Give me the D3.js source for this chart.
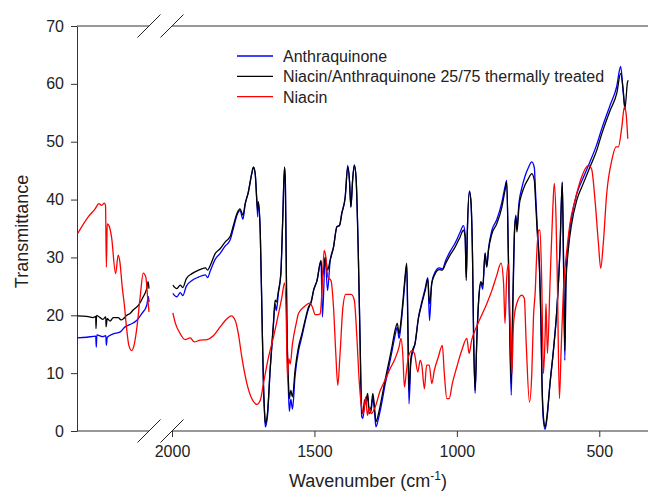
<!DOCTYPE html>
<html>
<head>
<meta charset="utf-8">
<script src="https://cdn.jsdelivr.net/npm/d3@7"></script>
<style>
  body { margin: 0; background: #fff; }
  svg { display: block; font-family: "Liberation Sans", Arial, sans-serif; }
</style>
</head>
<body>
<svg id="chart" width="648" height="492"></svg>
<script>
// broken wavenumber axis: left piece and right piece
var leftDomain = [2350, 2100];
var rightDomain = [2000, 329];
var xTicks = [2000, 1500, 1000, 500];
var yTicks = [0, 10, 20, 30, 40, 50, 60, 70];

var seriesNames = ['Anthraquinone', 'Niacin/Anthraquinone 25/75 thermally treated', 'Niacin'];
var seriesColors = ['#0000ff', '#000000', '#ff0000'];

// [wavenumber, transmittance]
var anthraLeft = [
  [2349,16.1],[2316,16.2],[2285,16.4],[2283,14.5],[2281,16.6],[2260,16.3],[2250,16.5],[2248,14.8],
  [2245,16.2],[2224,16.8],[2201,17.1],[2183,18.0],[2166,18.4],[2143,19.1],[2125,20.3],[2108,21.7],
  [2102,23.2],[2100,22.3]
];
var anthraRight = [
  [1997,23.8],[1983,23.2],[1971,23.9],[1962,23.4],[1950,25.0],[1930,26.0],[1907,26.6],[1883,27.0],
  [1875,26.5],[1866,27.6],[1848,29.7],[1831,30.7],[1813,32.0],[1796,33.0],[1784,35.1],[1772,37.3],
  [1761,38.1],[1751,36.6],[1743,39.2],[1732,41.3],[1720,44.5],[1714,45.6],[1708,44.5],[1702,39.6],
  [1699,37.0],[1697,39.6],[1690,34.1],[1684,19.7],[1679,8.2],[1674,2.0],[1672,0.7],[1665,2.5],
  [1655,10.8],[1644,18.3],[1638,22.0],[1634,20.8],[1626,24.0],[1618,27.0],[1611,37.0],[1605,45.6],
  [1602,42.8],[1597,19.7],[1591,6.5],[1588,3.4],[1583,5.5],[1577,3.8],[1568,9.5],[1556,13.8],
  [1544,16.3],[1533,18.8],[1521,21.1],[1511,22.5],[1503,24.3],[1491,26.0],[1477,29.3],[1472,19.7],
  [1462,30.0],[1454,24.3],[1445,29.3],[1433,31.8],[1421,35.3],[1412,35.5],[1404,37.6],[1392,40.4],
  [1383,45.9],[1377,43.3],[1372,38.7],[1366,43.3],[1360,46.0],[1354,43.9],[1346,30.7],[1340,16.2],
  [1334,2.5],[1330,2.2],[1324,4.5],[1318,5.0],[1313,6.0],[1308,3.0],[1301,3.5],[1295,5.8],
  [1289,3.3],[1284,0.7],[1275,2.2],[1263,5.0],[1252,8.0],[1240,10.8],[1228,13.7],[1217,16.5],
  [1209,17.9],[1203,16.0],[1196,18.4],[1188,22.5],[1182,26.0],[1176,28.7],[1172,17.0],[1168,4.7],
  [1162,11.5],[1156,13.5],[1147,15.0],[1135,19.6],[1123,22.3],[1111,24.7],[1102,26.5],[1096,19.1],
  [1088,25.7],[1076,27.5],[1062,28.2],[1051,28.0],[1039,29.5],[1024,31.0],[1006,32.5],[989,34.3],
  [977,35.5],[971,34.0],[967,26.5],[963,35.0],[956,41.5],[951,40.0],[945,30.1],[941,15.7],
  [936,6.5],[930,15.7],[922,23.5],[916,25.5],[909,24.5],[901,30.8],[895,28.5],[889,31.5],
  [877,34.7],[860,36.5],[842,39.5],[831,42.2],[825,43.3],[819,29.5],[814,16.0],[809,6.2],
  [805,17.5],[798,34.0],[793,37.3],[789,35.0],[782,39.4],[772,42.0],[761,44.0],[749,45.5],
  [737,46.5],[728,45.5],[724,41.5],[718,35.5],[710,28.5],[705,19.5],[701,8.0],[696,1.8],
  [690,0.3],[684,2.0],[673,8.2],[661,14.0],[649,21.0],[638,31.5],[630,43.0],[626,31.2],
  [621,12.2],[617,26.5],[609,32.5],[597,37.0],[579,41.0],[556,43.8],[533,46.5],[509,49.5],
  [491,52.3],[462,56.3],[439,59.5],[425,63.0],[416,58.5],[410,55.5]
];

var mixLeft = [
  [2349,19.9],[2316,19.8],[2294,19.6],[2285,19.8],[2284,17.7],[2282,20.0],[2270,19.6],[2260,19.3],
  [2250,19.7],[2249,18.0],[2245,19.4],[2235,19.0],[2224,19.6],[2207,19.6],[2197,19.2],[2189,19.4],
  [2177,20.0],[2166,20.3],[2155,20.9],[2137,21.7],[2120,23.2],[2108,24.6],[2103,25.8],[2100,24.6]
];
var mixRight = [
  [1997,25.2],[1983,24.6],[1971,25.2],[1962,24.8],[1950,26.3],[1930,27.2],[1907,27.8],[1883,28.2],
  [1875,27.8],[1866,28.6],[1848,30.7],[1831,31.5],[1813,32.7],[1796,33.6],[1784,35.6],[1772,37.6],
  [1761,38.4],[1751,37.3],[1743,39.3],[1732,41.3],[1720,44.5],[1714,45.6],[1708,44.5],[1702,39.6],
  [1699,38.1],[1697,39.6],[1690,34.1],[1684,19.7],[1679,8.2],[1674,2.4],[1672,1.3],[1665,3.0],
  [1655,11.1],[1644,18.6],[1638,22.6],[1634,22.3],[1626,24.3],[1618,27.2],[1611,37.0],[1605,45.6],
  [1602,42.8],[1597,19.7],[1591,8.2],[1588,5.6],[1583,7.0],[1577,5.9],[1568,10.5],[1556,14.5],
  [1544,16.8],[1533,19.1],[1521,21.4],[1511,22.3],[1503,24.3],[1491,26.0],[1477,29.5],[1472,26.6],
  [1462,30.1],[1454,27.8],[1445,29.5],[1433,31.8],[1421,35.3],[1412,35.5],[1404,37.6],[1392,40.4],
  [1383,45.6],[1377,43.3],[1372,38.7],[1366,43.3],[1360,45.9],[1354,43.9],[1346,30.7],[1340,16.2],
  [1334,3.6],[1330,3.0],[1324,5.3],[1318,5.6],[1313,6.5],[1308,3.6],[1301,4.1],[1295,6.5],
  [1289,4.1],[1284,1.6],[1275,3.0],[1263,5.9],[1252,8.8],[1240,11.6],[1228,14.5],[1217,17.4],
  [1209,18.6],[1203,16.8],[1196,19.1],[1188,23.2],[1182,26.6],[1176,29.0],[1172,19.1],[1168,7.0],
  [1162,12.2],[1156,13.9],[1147,15.1],[1135,19.4],[1123,22.0],[1111,24.3],[1102,26.3],[1096,22.0],
  [1088,25.5],[1076,27.2],[1062,27.9],[1051,27.8],[1039,29.0],[1024,30.4],[1006,31.8],[989,33.5],
  [977,34.7],[971,33.5],[967,26.0],[963,34.7],[956,41.3],[951,39.9],[945,30.1],[941,15.7],
  [936,7.0],[930,15.7],[922,23.7],[916,25.8],[909,25.2],[901,30.7],[895,28.3],[889,31.2],
  [877,34.1],[860,35.8],[842,38.7],[831,41.6],[825,43.0],[819,30.1],[814,17.4],[809,8.2],
  [805,18.6],[798,34.1],[793,37.0],[789,34.4],[782,38.7],[772,41.0],[761,42.5],[749,43.6],
  [737,44.5],[728,43.3],[724,40.0],[718,34.5],[710,28.0],[705,19.7],[701,8.2],[696,2.4],
  [690,0.7],[684,2.4],[673,8.2],[661,13.9],[649,20.9],[638,31.2],[630,43.0],[626,31.2],
  [621,13.9],[617,25.5],[609,31.2],[597,35.8],[579,39.9],[556,42.8],[533,45.6],[509,48.5],
  [491,51.4],[462,55.4],[439,58.3],[425,61.8],[416,58.9],[410,55.7],[401,60.3],[398,60.6]
];

var niacinLeft = [
  [2348,34.1],[2311,37.0],[2287,38.4],[2274,39.3],[2264,39.0],[2255,39.4],[2251,39.0],[2248,28.3],
  [2245,35.8],[2239,35.5],[2230,33.5],[2216,27.2],[2207,30.4],[2201,29.2],[2193,24.9],[2186,22.0],
  [2177,17.4],[2170,14.8],[2160,13.9],[2152,14.8],[2143,17.5],[2131,23.0],[2120,27.3],[2111,26.6],
  [2105,23.2],[2100,20.6]
];
var niacinRight = [
  [1997,20.4],[1988,18.6],[1971,16.8],[1954,15.8],[1936,16.1],[1922,15.4],[1901,15.7],[1877,15.8],
  [1854,16.5],[1831,18.0],[1807,19.4],[1792,19.9],[1778,19.1],[1767,16.8],[1755,12.8],[1737,8.2],
  [1720,5.6],[1702,4.6],[1690,5.3],[1679,8.2],[1661,12.8],[1644,16.2],[1626,20.3],[1614,23.2],
  [1605,25.6],[1599,19.7],[1595,9.3],[1590,12.5],[1585,11.6],[1577,15.1],[1564,18.6],[1556,20.3],
  [1538,21.4],[1515,22.1],[1507,21.4],[1497,20.1],[1480,20.2],[1474,23.7],[1466,31.2],[1460,30.1],
  [1453,26.6],[1442,26.0],[1433,21.4],[1425,13.4],[1418,7.9],[1410,13.4],[1400,21.4],[1390,23.6],
  [1371,23.6],[1360,22.6],[1351,16.2],[1343,8.8],[1336,4.7],[1328,3.0],[1320,5.9],[1314,2.7],
  [1308,4.1],[1301,3.0],[1287,4.1],[1269,7.0],[1252,8.8],[1234,10.8],[1217,12.5],[1203,14.5],
  [1196,16.0],[1190,13.4],[1184,7.6],[1178,9.9],[1170,12.8],[1158,13.9],[1149,13.4],[1137,10.2],
  [1129,12.2],[1123,11.4],[1114,7.3],[1106,11.4],[1097,11.4],[1088,8.2],[1079,10.5],[1065,12.8],
  [1051,14.8],[1044,9.9],[1035,5.6],[1027,5.6],[1016,8.2],[1000,11.1],[983,13.9],[965,16.0],
  [957,13.4],[948,15.7],[931,18.0],[913,20.0],[895,22.0],[877,24.3],[860,26.9],[845,29.0],
  [836,25.5],[831,18.6],[825,26.6],[819,28.9],[813,18.6],[807,9.9],[801,18.6],[790,22.0],
  [772,23.5],[763,22.9],[757,15.7],[745,5.0],[737,9.9],[731,19.7],[725,24.0],[719,31.2],
  [713,34.7],[708,34.7],[702,25.5],[696,9.9],[690,16.8],[687,22.0],[682,13.4],[673,25.5],
  [663,38.7],[658,42.8],[652,37.0],[647,25.5],[640,5.6],[634,13.9],[626,24.3],[614,31.2],
  [603,35.8],[585,39.9],[562,43.9],[538,45.9],[527,45.3],[515,39.9],[503,32.4],[495,28.1],
  [486,32.4],[474,41.0],[456,46.8],[441,49.1],[433,49.1],[421,52.5],[412,56.0],[406,54.9],
  [400,50.5]
];

var svg = d3.select('#chart');
var margin = {top: 26, left: 77};
var width = 571, height = 405;
var breakLeft = 72, breakRight = 95;

var g = svg.append('g').attr('transform', 'translate(' + margin.left + ',' + margin.top + ')');

var xL = d3.scaleLinear().domain(leftDomain).range([0, breakLeft]);
var xR = d3.scaleLinear().domain(rightDomain).range([breakRight, width]);
var y = d3.scaleLinear().domain([0, 70]).range([height, 0]);

var axisColor = '#333';

// y axis
var yAxis = g.append('g')
  .call(d3.axisLeft(y).tickValues(yTicks).tickSize(6).tickSizeOuter(0).tickPadding(7));
yAxis.select('.domain').attr('stroke', axisColor);
yAxis.selectAll('.tick line').attr('stroke', axisColor);
yAxis.selectAll('.tick text').attr('font-size', 16).attr('fill', '#222')
  .attr('font-family', '"Liberation Sans", Arial, sans-serif');

// x axis ticks (right piece only)
var xAxis = g.append('g').attr('transform', 'translate(0,' + height + ')')
  .call(d3.axisBottom(xR).tickValues(xTicks).tickFormat(d3.format('d'))
    .tickSize(6).tickSizeOuter(0).tickPadding(9));
xAxis.select('.domain').remove();
xAxis.selectAll('.tick line').attr('stroke', axisColor);
xAxis.selectAll('.tick text').attr('font-size', 16).attr('fill', '#222')
  .attr('font-family', '"Liberation Sans", Arial, sans-serif');

// frame lines, split at the break
[0, height].forEach(function(yy) {
  g.append('line').attr('x1', 0).attr('x2', breakLeft).attr('y1', yy).attr('y2', yy)
    .attr('stroke', axisColor).attr('stroke-width', 1);
  g.append('line').attr('x1', breakRight).attr('x2', width).attr('y1', yy).attr('y2', yy)
    .attr('stroke', axisColor).attr('stroke-width', 1);
  [breakLeft, breakRight].forEach(function(xx) {
    g.append('line')
      .attr('x1', xx - 11.5).attr('y1', yy + 11.5)
      .attr('x2', xx + 11.5).attr('y2', yy - 11.5)
      .attr('stroke', '#222').attr('stroke-width', 1);
  });
});

// spectra
var lineL = d3.line().x(function(d) { return xL(d[0]); }).y(function(d) { return y(d[1]); })
  .curve(d3.curveMonotoneX);
var lineR = d3.line().x(function(d) { return xR(d[0]); }).y(function(d) { return y(d[1]); })
  .curve(d3.curveMonotoneX);

var pieces = [
  {left: anthraLeft, right: anthraRight, color: seriesColors[0]},
  {left: mixLeft, right: mixRight, color: seriesColors[1]},
  {left: niacinLeft, right: niacinRight, color: seriesColors[2]}
];

pieces.forEach(function(p) {
  g.append('path').datum(p.left).attr('d', lineL)
    .attr('fill', 'none').attr('stroke', p.color).attr('stroke-width', 1.3);
  g.append('path').datum(p.right).attr('d', lineR)
    .attr('fill', 'none').attr('stroke', p.color).attr('stroke-width', 1.3);
});

// axis titles
svg.append('text')
  .attr('transform', 'translate(28,' + (margin.top + height / 2 + 3) + ') rotate(-90)')
  .attr('text-anchor', 'middle').attr('font-size', 18).attr('fill', '#222')
  .text('Transmittance');

var xTitle = svg.append('text')
  .attr('x', 368).attr('y', 487)
  .attr('text-anchor', 'middle').attr('font-size', 18).attr('fill', '#222');
xTitle.append('tspan').text('Wavenumber (cm');
xTitle.append('tspan').attr('font-size', 12).attr('dy', -7).text('-1');
xTitle.append('tspan').attr('dy', 7).text(')');

// legend
var legend = svg.append('g').attr('transform', 'translate(237,56)');
seriesNames.forEach(function(name, i) {
  var row = legend.append('g').attr('transform', 'translate(0,' + (i * 20.3) + ')');
  row.append('line').attr('x1', 0).attr('x2', 36).attr('y1', 0).attr('y2', 0)
    .attr('stroke', seriesColors[i]).attr('stroke-width', 1.3);
  row.append('text').attr('x', 46).attr('y', 6).attr('font-size', 16).attr('fill', '#222')
    .text(name);
});
</script>
</body>
</html>
